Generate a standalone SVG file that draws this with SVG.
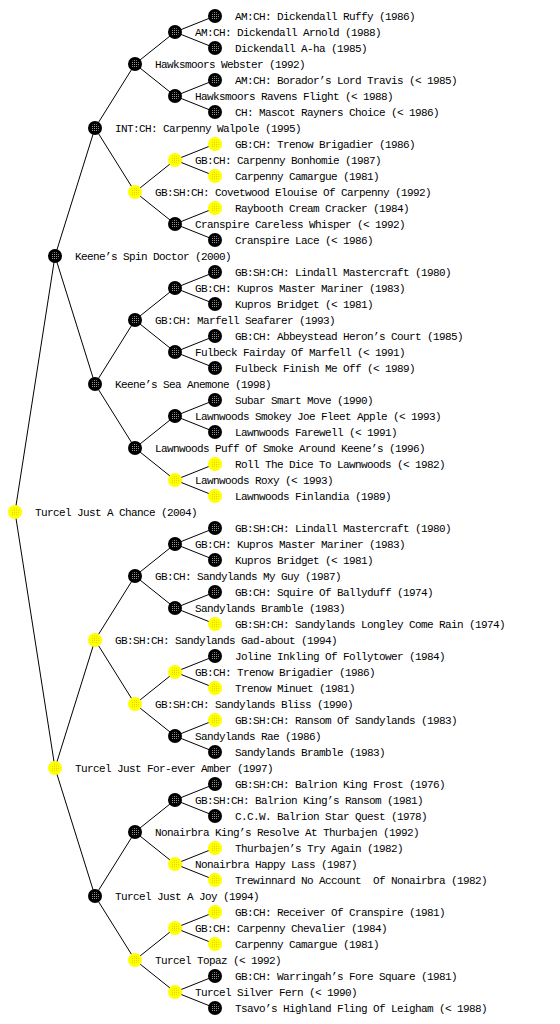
<svg xmlns="http://www.w3.org/2000/svg" width="560" height="1024" viewBox="0 0 560 1024">
<style>
text{font-family:"Liberation Mono","DejaVu Sans Mono",monospace;font-size:11px;letter-spacing:-0.6px;fill:#000;white-space:pre}
.b{fill:#000}
.y{fill:#ffff00}
.bc{fill:url(#dk)}
.yc{fill:url(#dy)}
#edges line{stroke:#000;stroke-width:1}
</style>
<defs>
<pattern id="dk" width="2" height="2" patternUnits="userSpaceOnUse"><rect width="2" height="2" fill="#000"/><rect width="1" height="1" fill="#999"/></pattern>
<pattern id="dy" width="2" height="2" patternUnits="userSpaceOnUse"><rect width="2" height="2" fill="#ffff00"/><rect width="1" height="1" fill="#d8d800"/></pattern>
</defs>
<rect width="560" height="1024" fill="#fff"/>
<g id="edges">
<line x1="15" y1="512" x2="55" y2="256"/><line x1="15" y1="512" x2="55" y2="768"/>
<line x1="55" y1="256" x2="95" y2="128"/><line x1="55" y1="256" x2="95" y2="384"/>
<line x1="55" y1="768" x2="95" y2="640"/><line x1="55" y1="768" x2="95" y2="896"/>
<line x1="95" y1="128" x2="135" y2="64"/><line x1="95" y1="128" x2="135" y2="192"/>
<line x1="95" y1="384" x2="135" y2="320"/><line x1="95" y1="384" x2="135" y2="448"/>
<line x1="95" y1="640" x2="135" y2="576"/><line x1="95" y1="640" x2="135" y2="704"/>
<line x1="95" y1="896" x2="135" y2="832"/><line x1="95" y1="896" x2="135" y2="960"/>
<line x1="135" y1="64" x2="175" y2="32"/><line x1="135" y1="64" x2="175" y2="96"/>
<line x1="135" y1="192" x2="175" y2="160"/><line x1="135" y1="192" x2="175" y2="224"/>
<line x1="135" y1="320" x2="175" y2="288"/><line x1="135" y1="320" x2="175" y2="352"/>
<line x1="135" y1="448" x2="175" y2="416"/><line x1="135" y1="448" x2="175" y2="480"/>
<line x1="135" y1="576" x2="175" y2="544"/><line x1="135" y1="576" x2="175" y2="608"/>
<line x1="135" y1="704" x2="175" y2="672"/><line x1="135" y1="704" x2="175" y2="736"/>
<line x1="135" y1="832" x2="175" y2="800"/><line x1="135" y1="832" x2="175" y2="864"/>
<line x1="135" y1="960" x2="175" y2="928"/><line x1="135" y1="960" x2="175" y2="992"/>
<line x1="175" y1="32" x2="215" y2="16"/><line x1="175" y1="32" x2="215" y2="48"/>
<line x1="175" y1="96" x2="215" y2="80"/><line x1="175" y1="96" x2="215" y2="112"/>
<line x1="175" y1="160" x2="215" y2="144"/><line x1="175" y1="160" x2="215" y2="176"/>
<line x1="175" y1="224" x2="215" y2="208"/><line x1="175" y1="224" x2="215" y2="240"/>
<line x1="175" y1="288" x2="215" y2="272"/><line x1="175" y1="288" x2="215" y2="304"/>
<line x1="175" y1="352" x2="215" y2="336"/><line x1="175" y1="352" x2="215" y2="368"/>
<line x1="175" y1="416" x2="215" y2="400"/><line x1="175" y1="416" x2="215" y2="432"/>
<line x1="175" y1="480" x2="215" y2="464"/><line x1="175" y1="480" x2="215" y2="496"/>
<line x1="175" y1="544" x2="215" y2="528"/><line x1="175" y1="544" x2="215" y2="560"/>
<line x1="175" y1="608" x2="215" y2="592"/><line x1="175" y1="608" x2="215" y2="624"/>
<line x1="175" y1="672" x2="215" y2="656"/><line x1="175" y1="672" x2="215" y2="688"/>
<line x1="175" y1="736" x2="215" y2="720"/><line x1="175" y1="736" x2="215" y2="752"/>
<line x1="175" y1="800" x2="215" y2="784"/><line x1="175" y1="800" x2="215" y2="816"/>
<line x1="175" y1="864" x2="215" y2="848"/><line x1="175" y1="864" x2="215" y2="880"/>
<line x1="175" y1="928" x2="215" y2="912"/><line x1="175" y1="928" x2="215" y2="944"/>
<line x1="175" y1="992" x2="215" y2="976"/><line x1="175" y1="992" x2="215" y2="1008"/>
</g>
<g id="n0"><circle class="y" cx="15" cy="512" r="7"/><circle class="yc" cx="15" cy="512" r="4"/><text x="35" y="516">Turcel Just A Chance (2004)</text></g>
<g id="n1"><circle class="b" cx="55" cy="256" r="7"/><circle class="bc" cx="55" cy="256" r="4"/><text x="75" y="260">Keene’s Spin Doctor (2000)</text></g>
<g id="n2"><circle class="y" cx="55" cy="768" r="7"/><circle class="yc" cx="55" cy="768" r="4"/><text x="75" y="772">Turcel Just For-ever Amber (1997)</text></g>
<g id="n3"><circle class="b" cx="95" cy="128" r="7"/><circle class="bc" cx="95" cy="128" r="4"/><text x="115" y="132">INT:CH: Carpenny Walpole (1995)</text></g>
<g id="n4"><circle class="b" cx="95" cy="384" r="7"/><circle class="bc" cx="95" cy="384" r="4"/><text x="115" y="388">Keene’s Sea Anemone (1998)</text></g>
<g id="n5"><circle class="y" cx="95" cy="640" r="7"/><circle class="yc" cx="95" cy="640" r="4"/><text x="115" y="644">GB:SH:CH: Sandylands Gad-about (1994)</text></g>
<g id="n6"><circle class="b" cx="95" cy="896" r="7"/><circle class="bc" cx="95" cy="896" r="4"/><text x="115" y="900">Turcel Just A Joy (1994)</text></g>
<g id="n7"><circle class="b" cx="135" cy="64" r="7"/><circle class="bc" cx="135" cy="64" r="4"/><text x="155" y="68">Hawksmoors Webster (1992)</text></g>
<g id="n8"><circle class="y" cx="135" cy="192" r="7"/><circle class="yc" cx="135" cy="192" r="4"/><text x="155" y="196">GB:SH:CH: Covetwood Elouise Of Carpenny (1992)</text></g>
<g id="n9"><circle class="b" cx="135" cy="320" r="7"/><circle class="bc" cx="135" cy="320" r="4"/><text x="155" y="324">GB:CH: Marfell Seafarer (1993)</text></g>
<g id="n10"><circle class="b" cx="135" cy="448" r="7"/><circle class="bc" cx="135" cy="448" r="4"/><text x="155" y="452">Lawnwoods Puff Of Smoke Around Keene’s (1996)</text></g>
<g id="n11"><circle class="b" cx="135" cy="576" r="7"/><circle class="bc" cx="135" cy="576" r="4"/><text x="155" y="580">GB:CH: Sandylands My Guy (1987)</text></g>
<g id="n12"><circle class="y" cx="135" cy="704" r="7"/><circle class="yc" cx="135" cy="704" r="4"/><text x="155" y="708">GB:SH:CH: Sandylands Bliss (1990)</text></g>
<g id="n13"><circle class="b" cx="135" cy="832" r="7"/><circle class="bc" cx="135" cy="832" r="4"/><text x="155" y="836">Nonairbra King’s Resolve At Thurbajen (1992)</text></g>
<g id="n14"><circle class="y" cx="135" cy="960" r="7"/><circle class="yc" cx="135" cy="960" r="4"/><text x="155" y="964">Turcel Topaz (&lt; 1992)</text></g>
<g id="n15"><circle class="b" cx="175" cy="32" r="7"/><circle class="bc" cx="175" cy="32" r="4"/><text x="195" y="36">AM:CH: Dickendall Arnold (1988)</text></g>
<g id="n16"><circle class="b" cx="175" cy="96" r="7"/><circle class="bc" cx="175" cy="96" r="4"/><text x="195" y="100">Hawksmoors Ravens Flight (&lt; 1988)</text></g>
<g id="n17"><circle class="y" cx="175" cy="160" r="7"/><circle class="yc" cx="175" cy="160" r="4"/><text x="195" y="164">GB:CH: Carpenny Bonhomie (1987)</text></g>
<g id="n18"><circle class="b" cx="175" cy="224" r="7"/><circle class="bc" cx="175" cy="224" r="4"/><text x="195" y="228">Cranspire Careless Whisper (&lt; 1992)</text></g>
<g id="n19"><circle class="b" cx="175" cy="288" r="7"/><circle class="bc" cx="175" cy="288" r="4"/><text x="195" y="292">GB:CH: Kupros Master Mariner (1983)</text></g>
<g id="n20"><circle class="b" cx="175" cy="352" r="7"/><circle class="bc" cx="175" cy="352" r="4"/><text x="195" y="356">Fulbeck Fairday Of Marfell (&lt; 1991)</text></g>
<g id="n21"><circle class="b" cx="175" cy="416" r="7"/><circle class="bc" cx="175" cy="416" r="4"/><text x="195" y="420">Lawnwoods Smokey Joe Fleet Apple (&lt; 1993)</text></g>
<g id="n22"><circle class="y" cx="175" cy="480" r="7"/><circle class="yc" cx="175" cy="480" r="4"/><text x="195" y="484">Lawnwoods Roxy (&lt; 1993)</text></g>
<g id="n23"><circle class="b" cx="175" cy="544" r="7"/><circle class="bc" cx="175" cy="544" r="4"/><text x="195" y="548">GB:CH: Kupros Master Mariner (1983)</text></g>
<g id="n24"><circle class="b" cx="175" cy="608" r="7"/><circle class="bc" cx="175" cy="608" r="4"/><text x="195" y="612">Sandylands Bramble (1983)</text></g>
<g id="n25"><circle class="y" cx="175" cy="672" r="7"/><circle class="yc" cx="175" cy="672" r="4"/><text x="195" y="676">GB:CH: Trenow Brigadier (1986)</text></g>
<g id="n26"><circle class="b" cx="175" cy="736" r="7"/><circle class="bc" cx="175" cy="736" r="4"/><text x="195" y="740">Sandylands Rae (1986)</text></g>
<g id="n27"><circle class="b" cx="175" cy="800" r="7"/><circle class="bc" cx="175" cy="800" r="4"/><text x="195" y="804">GB:SH:CH: Balrion King’s Ransom (1981)</text></g>
<g id="n28"><circle class="y" cx="175" cy="864" r="7"/><circle class="yc" cx="175" cy="864" r="4"/><text x="195" y="868">Nonairbra Happy Lass (1987)</text></g>
<g id="n29"><circle class="y" cx="175" cy="928" r="7"/><circle class="yc" cx="175" cy="928" r="4"/><text x="195" y="932">GB:CH: Carpenny Chevalier (1984)</text></g>
<g id="n30"><circle class="y" cx="175" cy="992" r="7"/><circle class="yc" cx="175" cy="992" r="4"/><text x="195" y="996">Turcel Silver Fern (&lt; 1990)</text></g>
<g id="n31"><circle class="b" cx="215" cy="16" r="7"/><circle class="bc" cx="215" cy="16" r="4"/><text x="235" y="20">AM:CH: Dickendall Ruffy (1986)</text></g>
<g id="n32"><circle class="b" cx="215" cy="48" r="7"/><circle class="bc" cx="215" cy="48" r="4"/><text x="235" y="52">Dickendall A-ha (1985)</text></g>
<g id="n33"><circle class="b" cx="215" cy="80" r="7"/><circle class="bc" cx="215" cy="80" r="4"/><text x="235" y="84">AM:CH: Borador’s Lord Travis (&lt; 1985)</text></g>
<g id="n34"><circle class="b" cx="215" cy="112" r="7"/><circle class="bc" cx="215" cy="112" r="4"/><text x="235" y="116">CH: Mascot Rayners Choice (&lt; 1986)</text></g>
<g id="n35"><circle class="y" cx="215" cy="144" r="7"/><circle class="yc" cx="215" cy="144" r="4"/><text x="235" y="148">GB:CH: Trenow Brigadier (1986)</text></g>
<g id="n36"><circle class="y" cx="215" cy="176" r="7"/><circle class="yc" cx="215" cy="176" r="4"/><text x="235" y="180">Carpenny Camargue (1981)</text></g>
<g id="n37"><circle class="y" cx="215" cy="208" r="7"/><circle class="yc" cx="215" cy="208" r="4"/><text x="235" y="212">Raybooth Cream Cracker (1984)</text></g>
<g id="n38"><circle class="b" cx="215" cy="240" r="7"/><circle class="bc" cx="215" cy="240" r="4"/><text x="235" y="244">Cranspire Lace (&lt; 1986)</text></g>
<g id="n39"><circle class="b" cx="215" cy="272" r="7"/><circle class="bc" cx="215" cy="272" r="4"/><text x="235" y="276">GB:SH:CH: Lindall Mastercraft (1980)</text></g>
<g id="n40"><circle class="b" cx="215" cy="304" r="7"/><circle class="bc" cx="215" cy="304" r="4"/><text x="235" y="308">Kupros Bridget (&lt; 1981)</text></g>
<g id="n41"><circle class="b" cx="215" cy="336" r="7"/><circle class="bc" cx="215" cy="336" r="4"/><text x="235" y="340">GB:CH: Abbeystead Heron’s Court (1985)</text></g>
<g id="n42"><circle class="b" cx="215" cy="368" r="7"/><circle class="bc" cx="215" cy="368" r="4"/><text x="235" y="372">Fulbeck Finish Me Off (&lt; 1989)</text></g>
<g id="n43"><circle class="b" cx="215" cy="400" r="7"/><circle class="bc" cx="215" cy="400" r="4"/><text x="235" y="404">Subar Smart Move (1990)</text></g>
<g id="n44"><circle class="b" cx="215" cy="432" r="7"/><circle class="bc" cx="215" cy="432" r="4"/><text x="235" y="436">Lawnwoods Farewell (&lt; 1991)</text></g>
<g id="n45"><circle class="y" cx="215" cy="464" r="7"/><circle class="yc" cx="215" cy="464" r="4"/><text x="235" y="468">Roll The Dice To Lawnwoods (&lt; 1982)</text></g>
<g id="n46"><circle class="y" cx="215" cy="496" r="7"/><circle class="yc" cx="215" cy="496" r="4"/><text x="235" y="500">Lawnwoods Finlandia (1989)</text></g>
<g id="n47"><circle class="b" cx="215" cy="528" r="7"/><circle class="bc" cx="215" cy="528" r="4"/><text x="235" y="532">GB:SH:CH: Lindall Mastercraft (1980)</text></g>
<g id="n48"><circle class="b" cx="215" cy="560" r="7"/><circle class="bc" cx="215" cy="560" r="4"/><text x="235" y="564">Kupros Bridget (&lt; 1981)</text></g>
<g id="n49"><circle class="b" cx="215" cy="592" r="7"/><circle class="bc" cx="215" cy="592" r="4"/><text x="235" y="596">GB:CH: Squire Of Ballyduff (1974)</text></g>
<g id="n50"><circle class="y" cx="215" cy="624" r="7"/><circle class="yc" cx="215" cy="624" r="4"/><text x="235" y="628">GB:SH:CH: Sandylands Longley Come Rain (1974)</text></g>
<g id="n51"><circle class="b" cx="215" cy="656" r="7"/><circle class="bc" cx="215" cy="656" r="4"/><text x="235" y="660">Joline Inkling Of Follytower (1984)</text></g>
<g id="n52"><circle class="y" cx="215" cy="688" r="7"/><circle class="yc" cx="215" cy="688" r="4"/><text x="235" y="692">Trenow Minuet (1981)</text></g>
<g id="n53"><circle class="y" cx="215" cy="720" r="7"/><circle class="yc" cx="215" cy="720" r="4"/><text x="235" y="724">GB:SH:CH: Ransom Of Sandylands (1983)</text></g>
<g id="n54"><circle class="b" cx="215" cy="752" r="7"/><circle class="bc" cx="215" cy="752" r="4"/><text x="235" y="756">Sandylands Bramble (1983)</text></g>
<g id="n55"><circle class="b" cx="215" cy="784" r="7"/><circle class="bc" cx="215" cy="784" r="4"/><text x="235" y="788">GB:SH:CH: Balrion King Frost (1976)</text></g>
<g id="n56"><circle class="b" cx="215" cy="816" r="7"/><circle class="bc" cx="215" cy="816" r="4"/><text x="235" y="820">C.C.W. Balrion Star Quest (1978)</text></g>
<g id="n57"><circle class="y" cx="215" cy="848" r="7"/><circle class="yc" cx="215" cy="848" r="4"/><text x="235" y="852">Thurbajen’s Try Again (1982)</text></g>
<g id="n58"><circle class="y" cx="215" cy="880" r="7"/><circle class="yc" cx="215" cy="880" r="4"/><text x="235" y="884" xml:space="preserve">Trewinnard No Account  Of Nonairbra (1982)</text></g>
<g id="n59"><circle class="y" cx="215" cy="912" r="7"/><circle class="yc" cx="215" cy="912" r="4"/><text x="235" y="916">GB:CH: Receiver Of Cranspire (1981)</text></g>
<g id="n60"><circle class="y" cx="215" cy="944" r="7"/><circle class="yc" cx="215" cy="944" r="4"/><text x="235" y="948">Carpenny Camargue (1981)</text></g>
<g id="n61"><circle class="b" cx="215" cy="976" r="7"/><circle class="bc" cx="215" cy="976" r="4"/><text x="235" y="980">GB:CH: Warringah’s Fore Square (1981)</text></g>
<g id="n62"><circle class="b" cx="215" cy="1008" r="7"/><circle class="bc" cx="215" cy="1008" r="4"/><text x="235" y="1012">Tsavo’s Highland Fling Of Leigham (&lt; 1988)</text></g>
</svg>
